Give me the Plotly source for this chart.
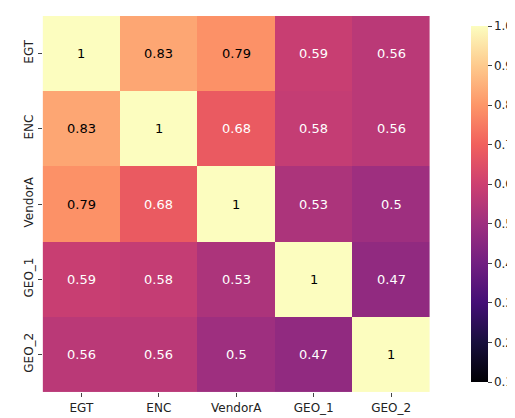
import plotly.graph_objects as go

labels = ["EGT", "ENC", "VendorA", "GEO_1", "GEO_2"]
corr = [
    [1, 0.83, 0.79, 0.59, 0.56],
    [0.83, 1, 0.68, 0.58, 0.56],
    [0.79, 0.68, 1, 0.53, 0.5],
    [0.59, 0.58, 0.53, 1, 0.47],
    [0.56, 0.56, 0.5, 0.47, 1],
]
cbar_ticks = [0.1, 0.2, 0.3, 0.4, 0.5, 0.6, 0.7, 0.8, 0.9, 1.0]

fig = go.Figure(go.Heatmap(
    z=corr, x=labels, y=labels, colorscale="Magma", zmin=0.1, zmax=1.0,
    xgap=0, ygap=0, hoverinfo="none",
    colorbar=dict(x=0.889, xanchor="left", y=0.531, len=0.9, thickness=17,
                  tickvals=cbar_ticks, ticktext=[f"{t:.1f}" for t in cbar_ticks],
                  ticks="outside", ticklen=4, outlinewidth=0,
                  tickfont=dict(size=12, color="#222")),
))

for i, row in enumerate(corr):
    for j, v in enumerate(row):
        fig.add_annotation(x=labels[j], y=labels[i], text=f"{v:g}", showarrow=False,
                           font=dict(size=13, color="black" if v > 0.75 else "white"))

fig.update_layout(
    width=515, height=418, margin=dict(l=0, r=0, t=0, b=0),
    plot_bgcolor="white", paper_bgcolor="white",
    font=dict(family="DejaVu Sans", size=12, color="#222"),
    xaxis=dict(domain=[0.068, 0.829], ticks="outside", ticklen=4, showgrid=False),
    yaxis=dict(domain=[0.081, 0.981], autorange="reversed", ticks="outside", ticklen=4,
               tickangle=-90, showgrid=False),
)

fig.write_html("out.html")
